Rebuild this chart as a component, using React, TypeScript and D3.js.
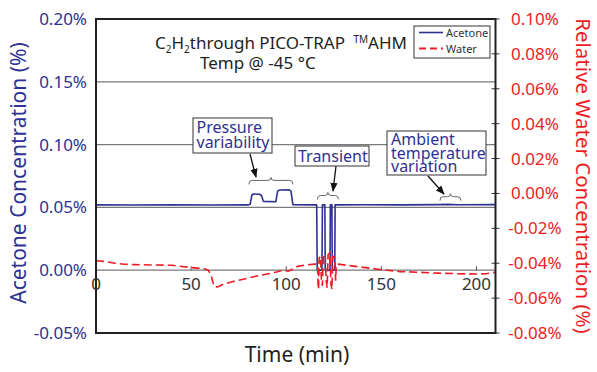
import React from 'react';
import * as d3 from 'd3';

// ---------- data ----------
const timeTicks = [0, 50, 100, 150, 200];
const timeTickLabels = ['0', '50', '100', '150', '200'];

const acetoneTicks = [-0.05, 0.0, 0.05, 0.1, 0.15, 0.2];
const acetoneTickLabels = ['-0.05%', '0.00%', '0.05%', '0.10%', '0.15%', '0.20%'];
const gridTicks = [0.0, 0.05, 0.1, 0.15];

const waterTicks = [-0.08, -0.06, -0.04, -0.02, 0.0, 0.02, 0.04, 0.06, 0.08, 0.1];
const waterTickLabels = ['-0.08%', '-0.06%', '-0.04%', '-0.02%', '0.00%', '0.02%', '0.04%', '0.06%', '0.08%', '0.10%'];

const acetoneTime = [
  0, 20, 40, 60, 80, 81, 82, 83, 86, 87, 88, 94.5, 95.5, 96.5, 101.5, 102.5, 103.5,
  116, 116.3, 118.8, 119.0, 120.3, 120.5, 123.0, 123.2, 124.0, 124.2, 125.5, 125.7,
  140, 160, 180, 185, 190, 210,
];
const acetoneValue = [
  0.052, 0.0519, 0.052, 0.0519, 0.052, 0.0525, 0.06, 0.0607, 0.0605, 0.0595, 0.0548, 0.0545, 0.063, 0.0639, 0.064, 0.063, 0.0522,
  0.052, 0.0, 0.0, 0.052, 0.052, 0.0, 0.0, 0.052, 0.052, 0.0, 0.0, 0.052,
  0.0521, 0.052, 0.0522, 0.0524, 0.0521, 0.0522,
];

const waterTime = [
  0, 5, 10, 15, 20, 30, 40, 50, 57, 59, 60.5, 62, 64, 67, 72, 78, 84, 90, 95, 98, 101, 103, 106, 110, 115,
  116.5, 116.7, 117, 117.3, 118, 118.5, 119, 119.5, 120.5, 121, 121.5, 122, 123, 123.5, 124, 124.5, 125.5, 126, 126.3,
  127, 132, 138, 145, 150, 160, 170, 180, 190, 200, 205, 210,
];
const waterValue = [
  -0.0386, -0.039, -0.04, -0.0406, -0.0408, -0.041, -0.0412, -0.0425, -0.0432, -0.044, -0.047, -0.0532, -0.0536, -0.052, -0.0505, -0.049, -0.0475, -0.0462, -0.045, -0.044, -0.0446, -0.0436, -0.0418, -0.041, -0.0405,
  -0.0405, -0.052, -0.055, -0.037, -0.036, -0.05, -0.053, -0.036, -0.035, -0.05, -0.054, -0.035, -0.034, -0.052, -0.055, -0.036, -0.037, -0.05, -0.041,
  -0.0405, -0.0412, -0.042, -0.043, -0.0437, -0.0448, -0.0452, -0.0457, -0.046, -0.0462, -0.046, -0.0452,
];

const annotations = [
  { lines: ['Pressure', 'variability'], t0: 80.4, t1: 103.5 },
  { lines: ['Transient'], t0: 116.4, t1: 127.4 },
  { lines: ['Ambient', 'temperature', 'variation'], t0: 180.8, t1: 191.8 },
];

// ---------- layout ----------
const W = 597;
const H = 372;
const L = 96;
const R = 495.5;
const T = 19;
const B = 333;

const BLUE = '#2e3192';
const RED = '#ed1c24';
const FONT = "'Noto Sans', sans-serif";

function bracePath(x1: number, x2: number, y: number) {
  const m = (x1 + x2) / 2;
  const h = 4;
  return `M${x1},${y + h} Q${x1},${y} ${x1 + 3},${y} L${m - 3},${y} Q${m},${y} ${m},${y - 3} Q${m},${y} ${m + 3},${y} L${x2 - 3},${y} Q${x2},${y} ${x2},${y + h}`;
}

export default function App() {
  const x = d3.scaleLinear().domain([0, 210]).range([L, R]);
  const yL = d3.scaleLinear().domain([-0.05, 0.2]).range([B, T]);
  const yR = d3.scaleLinear().domain([-0.08, 0.1]).range([B, T]);

  const acetone = acetoneTime.map((t, i) => [t, acetoneValue[i]] as [number, number]);
  const water = waterTime.map((t, i) => [t, waterValue[i]] as [number, number]);

  const lineA = d3.line<[number, number]>().x((d) => x(d[0])).y((d) => yL(d[1]));
  const lineW = d3.line<[number, number]>().x((d) => x(d[0])).y((d) => yR(d[1]));

  const boxes = [
    { bx: 193, by: 118, bw: 79, bh: 35, tx: 196.5, ty: 133, lh: 15, ax1: 250, ay1: 154, ax2: 256, ay2: 177, braceY: yL(0.0715) },
    { bx: 295, by: 146, bw: 74, bh: 20, tx: 298, ty: 161.5, lh: 15, ax1: 336, ay1: 166, ax2: 333, ay2: 191, braceY: yL(0.0595) },
    { bx: 387, by: 131, bw: 99, bh: 44, tx: 391, ty: 145, lh: 13.5, ax1: 428, ay1: 176, ax2: 444, ay2: 194, braceY: yL(0.0585) },
  ];

  return (
    <svg width={W} height={H} style={{ position: 'absolute', left: 0, top: 0, background: '#fff' }} fontFamily={FONT}>
      <defs>
        <marker id="arr" viewBox="0 0 10 10" refX="9" refY="5" markerWidth="7" markerHeight="7" orient="auto-start-reverse">
          <path d="M0,1 L10,5 L0,9 z" fill="#111" />
        </marker>
      </defs>
      <rect x={0} y={0} width={W} height={H} fill="#fff" />

      {gridTicks.map((v) => (
        <line key={v} x1={L} x2={R} y1={yL(v)} y2={yL(v)} stroke="#7a7a7a" strokeWidth={1.2} />
      ))}

      {timeTicks.map((t) => (
        <line key={t} x1={x(t)} x2={x(t)} y1={yL(0)} y2={yL(0) - 4} stroke="#555" strokeWidth={1} />
      ))}

      {waterTicks.map((v) => (
        <line key={v} x1={R - 4} x2={R + 4} y1={yR(v)} y2={yR(v)} stroke="#333" strokeWidth={1} />
      ))}

      <path d={lineA(acetone) || ''} fill="none" stroke={BLUE} strokeWidth={1.6} strokeLinejoin="round" />
      <path d={lineW(water) || ''} fill="none" stroke={RED} strokeWidth={1.6} strokeDasharray="8,4" />

      <rect x={L} y={T} width={R - L} height={B - T} fill="none" stroke="#231f20" strokeWidth={2} />

      {timeTicks.map((t, i) => (
        <text key={t} x={x(t)} y={290} textAnchor="middle" fontSize={17} fill="#333">
          {timeTickLabels[i]}
        </text>
      ))}

      {acetoneTicks.map((v, i) => (
        <text key={v} x={87} y={yL(v) + 6} textAnchor="end" fontSize={17} fill={BLUE}>
          {acetoneTickLabels[i]}
        </text>
      ))}

      {waterTicks.map((v, i) => (
        <text key={v} x={535} y={yR(v) + 6} textAnchor="middle" fontSize={17} fill={RED}>
          {waterTickLabels[i]}
        </text>
      ))}

      <text x={297} y={362} textAnchor="middle" fontSize={21} fill="#231f20">Time (min)</text>
      <text transform={`translate(26,${(T + B) / 2 - 3}) rotate(-90)`} textAnchor="middle" fontSize={21} fill={BLUE}>
        Acetone Concentration (%)
      </text>
      <text transform={`translate(576,${(T + B) / 2}) rotate(90)`} textAnchor="middle" fontSize={20.5} fill={RED}>
        Relative Water Concentration (%)
      </text>

      <text x={155} y={49} fontSize={17} fill="#231f20">
        C<tspan fontSize={10} dy={4}>2</tspan>
        <tspan dy={-4}>H</tspan>
        <tspan fontSize={10} dy={4}>2</tspan>
        <tspan dy={-4}>through PICO-TRAP </tspan>
        <tspan fontSize={10} dy={-6} dx={4}>TM</tspan>
        <tspan dy={6}>AHM</tspan>
      </text>
      <text x={200} y={69} fontSize={17} fill="#231f20">Temp @ -45 °C</text>

      <rect x={414} y={26} width={76} height={32} fill="#fff" stroke="#333" strokeWidth={1} />
      <line x1={419} x2={443} y1={32.5} y2={32.5} stroke={BLUE} strokeWidth={1.6} />
      <text x={446} y={36.5} fontSize={11} fill="#333">Acetone</text>
      <line x1={419} x2={443} y1={48.5} y2={48.5} stroke={RED} strokeWidth={2} strokeDasharray="7,4" />
      <text x={446} y={52.5} fontSize={11} fill="#333">Water</text>

      {annotations.map((a, i) => {
        const b = boxes[i];
        return (
          <g key={i}>
            <path d={bracePath(x(a.t0), x(a.t1), b.braceY)} fill="none" stroke="#666" strokeWidth={1} />
            <line x1={b.ax1} y1={b.ay1} x2={b.ax2} y2={b.ay2} stroke="#111" strokeWidth={1.3} markerEnd="url(#arr)" />
            <rect x={b.bx} y={b.by} width={b.bw} height={b.bh} fill="#fff" stroke="#333" strokeWidth={1} />
            {a.lines.map((ln, j) => (
              <text key={j} x={b.tx} y={b.ty + j * b.lh} fontSize={16} fill={BLUE}>
                {ln}
              </text>
            ))}
          </g>
        );
      })}
    </svg>
  );
}
